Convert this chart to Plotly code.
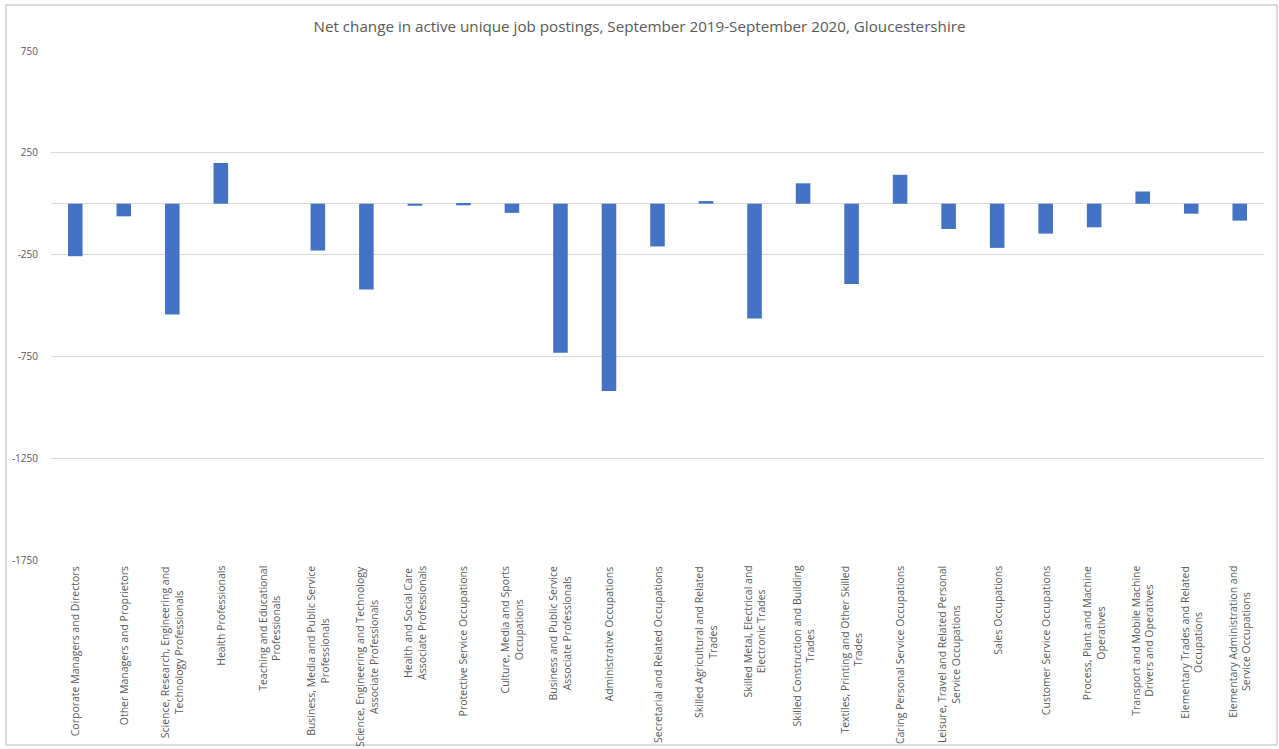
import plotly.graph_objects as go

categories = [
    "Corporate Managers and Directors",
    "Other Managers and Proprietors",
    "Science, Research, Engineering and<br>Technology Professionals",
    "Health Professionals",
    "Teaching and Educational<br>Professionals",
    "Business, Media and Public Service<br>Professionals",
    "Science, Engineering and Technology<br>Associate Professionals",
    "Health and Social Care<br>Associate Professionals",
    "Protective Service Occupations",
    "Culture, Media and Sports<br>Occupations",
    "Business and Public Service<br>Associate Professionals",
    "Administrative Occupations",
    "Secretarial and Related Occupations",
    "Skilled Agricultural and Related<br>Trades",
    "Skilled Metal, Electrical and<br>Electronic Trades",
    "Skilled Construction and Building<br>Trades",
    "Textiles, Printing and Other Skilled<br>Trades",
    "Caring Personal Service Occupations",
    "Leisure, Travel and Related Personal<br>Service Occupations",
    "Sales Occupations",
    "Customer Service Occupations",
    "Process, Plant and Machine<br>Operatives",
    "Transport and Mobile Machine<br>Drivers and Operatives",
    "Elementary Trades and Related<br>Occupations",
    "Elementary Administration and<br>Service Occupations",
]

net_change = [-258, -62, -544, 200, 0, -230, -422, -10, -8, -45, -732, -920,
              -210, 13, -564, 100, -394, 142, -124, -217, -147, -116, 60, -49, -83]

y_ticks = [750, 250, -250, -750, -1250, -1750]

title_text = "Net change in active unique job postings, September 2019-September 2020, Gloucestershire"

fig = go.Figure(go.Bar(
    x=categories, y=net_change,
    marker=dict(color="#4472C4", line=dict(width=0)),
))

label_font = dict(size=10.5, color="#595959", family="Open Sans, sans-serif")
annotations = [
    dict(x=c, y=0, xref="x", yref="paper", text=c, showarrow=False,
         textangle=-90, xanchor="center", yanchor="top", align="center",
         yshift=-4, font=label_font)
    for c in categories
]

fig.update_layout(
    width=1279, height=749,
    paper_bgcolor="white", plot_bgcolor="white",
    margin=dict(l=51, r=15, t=51, b=189),
    bargap=0.7,
    showlegend=False,
    font=dict(family="Open Sans, sans-serif", color="#595959"),
    title=dict(text=title_text, x=0.5, xanchor="center", y=0.965, yanchor="middle",
               font=dict(size=15.2, color="#595959", family="Open Sans, sans-serif")),
    annotations=annotations,
    shapes=[dict(type="rect", xref="paper", yref="paper",
                 x0=-0.0371, x1=1.0107, y0=-0.3635, y1=1.0904,
                 line=dict(color="#D0D0D0", width=1.5), layer="above")],
)

fig.update_yaxes(
    range=[-1750, 750], tickvals=y_ticks, ticktext=[str(v) for v in y_ticks],
    showgrid=True, gridcolor="#D9D9D9", gridwidth=1,
    zeroline=True, zerolinecolor="#D9D9D9", zerolinewidth=1,
    showline=False, ticks="outside", ticklen=10, tickcolor="rgba(0,0,0,0)",
    tickfont=dict(size=10, color="#595959", family="Open Sans, sans-serif"),
)
fig.update_xaxes(
    showticklabels=False, showgrid=False, showline=False, ticks="",
)

fig.write_html("out.html", config={"displayModeBar": False},
               post_script="document.body.style.margin='0px';")
